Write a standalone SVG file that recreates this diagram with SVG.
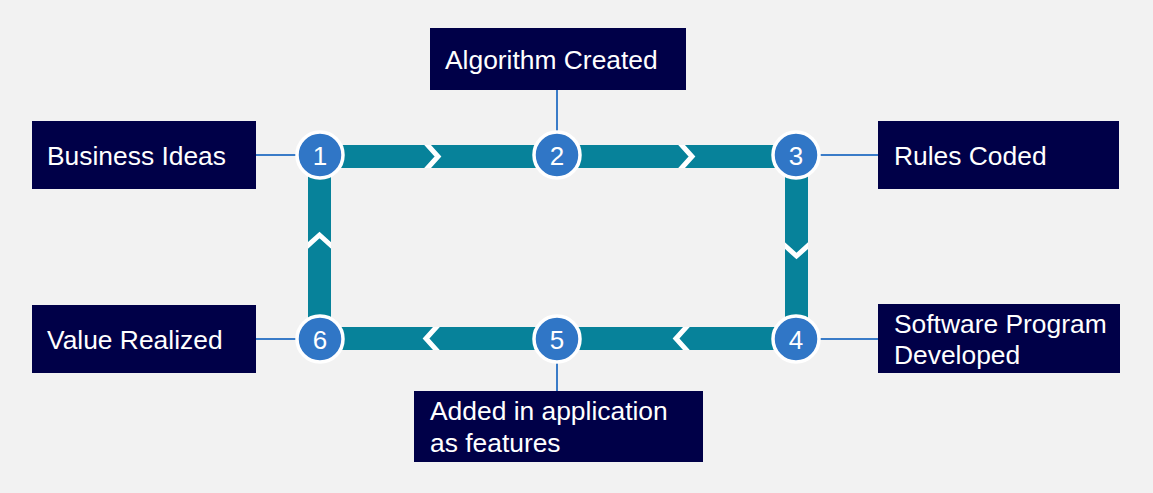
<svg xmlns="http://www.w3.org/2000/svg" width="1153" height="493" viewBox="0 0 1153 493">
<style>
.band{fill:#07829a;}
.chev{fill:none;stroke:#ffffff;stroke-width:5;stroke-linejoin:miter;}
.link{stroke:#3a7cc8;stroke-width:2;fill:none;}
.box{fill:#000048;}
.lbl{font-family:"Liberation Sans",Arial,sans-serif;font-size:26.4px;fill:#ffffff;}
.dot{fill:#3076c6;stroke:#ffffff;stroke-width:3.5;}
.num{font-family:"Liberation Sans",Arial,sans-serif;font-size:26px;fill:#ffffff;text-anchor:middle;}
</style>
<defs>
<clipPath id="bandclip">
<rect x="320" y="145" width="476" height="23"/>
<rect x="320" y="327" width="476" height="23"/>
<rect x="308" y="156" width="23" height="183"/>
<rect x="785" y="156" width="23" height="183"/>
</clipPath>
</defs>
<rect width="1153" height="493" fill="#f2f2f2"/>
<g id="connectors">
<g id="band">
<rect class="band" x="320" y="145" width="476" height="23"/>
<rect class="band" x="320" y="327" width="476" height="23"/>
<rect class="band" x="308" y="156" width="23" height="183"/>
<rect class="band" x="785" y="156" width="23" height="183"/>
<g clip-path="url(#bandclip)">
<polyline class="chev" points="424,141 438,156.5 424,172"/>
<polyline class="chev" points="678,141 692,156.5 678,172"/>
<polyline class="chev" points="440,323 426,338.5 440,354"/>
<polyline class="chev" points="690,323 676,338.5 690,354"/>
<polyline class="chev" points="304,249 319.5,235 335,249"/>
<polyline class="chev" points="781,242 796.5,256 812,242"/>
</g>
</g>
<line class="link" x1="256" y1="155" x2="300" y2="155"/>
<line class="link" x1="557" y1="90" x2="557" y2="136"/>
<line class="link" x1="816" y1="155" x2="878" y2="155"/>
<line class="link" x1="816" y1="339" x2="878" y2="339"/>
<line class="link" x1="256" y1="339" x2="300" y2="339"/>
<line class="link" x1="557" y1="360" x2="557" y2="391"/>
</g>
<g id="node-business">
<rect class="box" x="32" y="121" width="224" height="68"/>
<text class="lbl" x="47" y="165">Business Ideas</text>
</g>
<g id="node-algorithm">
<rect class="box" x="430" y="28" width="256" height="62"/>
<text class="lbl" x="445" y="69">Algorithm Created</text>
</g>
<g id="node-rules">
<rect class="box" x="878" y="121" width="241" height="68"/>
<text class="lbl" x="894" y="165">Rules Coded</text>
</g>
<g id="node-software">
<rect class="box" x="878" y="304" width="242" height="69"/>
<text class="lbl" x="894" y="333">Software Program</text>
<text class="lbl" x="894" y="364">Developed</text>
</g>
<g id="node-added">
<rect class="box" x="414" y="391" width="289" height="71"/>
<text class="lbl" x="430" y="420">Added in application</text>
<text class="lbl" x="430" y="452">as features</text>
</g>
<g id="node-value">
<rect class="box" x="32" y="305" width="224" height="68"/>
<text class="lbl" x="47" y="349">Value Realized</text>
</g>
<g id="step-1"><circle class="dot" cx="320" cy="155" r="23"/><text class="num" x="320" y="164.5">1</text></g>
<g id="step-2"><circle class="dot" cx="557" cy="155" r="23"/><text class="num" x="557" y="164.5">2</text></g>
<g id="step-3"><circle class="dot" cx="796" cy="155" r="23"/><text class="num" x="796" y="164.5">3</text></g>
<g id="step-4"><circle class="dot" cx="796" cy="339" r="23"/><text class="num" x="796" y="348.5">4</text></g>
<g id="step-5"><circle class="dot" cx="557" cy="339" r="23"/><text class="num" x="557" y="348.5">5</text></g>
<g id="step-6"><circle class="dot" cx="320" cy="339" r="23"/><text class="num" x="320" y="348.5">6</text></g>
</svg>
